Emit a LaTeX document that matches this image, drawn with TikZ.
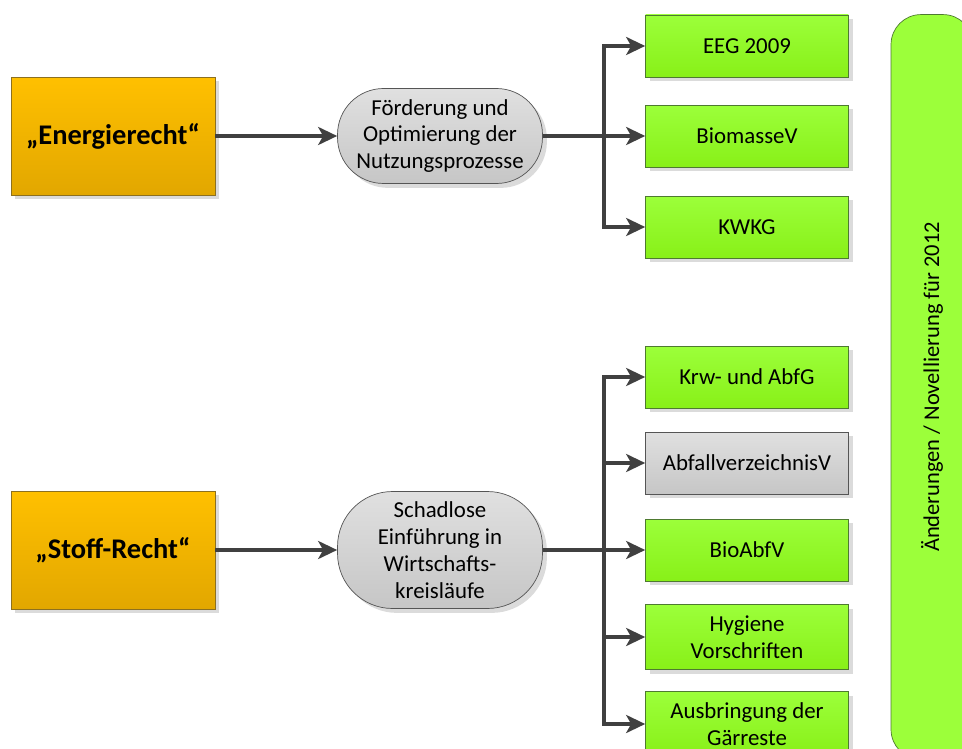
\documentclass[tikz,border=0pt]{standalone}
\usepackage{fontspec}
\setmainfont{Carlito}
\usetikzlibrary{arrows.meta,shadows}

\definecolor{orangetop}{HTML}{FFC000}
\definecolor{orangebot}{HTML}{E2A700}
\definecolor{orangeline}{HTML}{8C7020}
\definecolor{greentop}{HTML}{9CFF3A}
\definecolor{greenbot}{HTML}{88F018}
\definecolor{greenline}{HTML}{4E7A30}
\definecolor{graytop}{HTML}{E0E0E0}
\definecolor{graybot}{HTML}{C6C6C6}
\definecolor{grayline}{HTML}{555555}
\definecolor{arrowgray}{HTML}{404040}

\begin{document}
\begin{tikzpicture}[x=0.02cm,y=-0.02cm,
    shadowed/.style={drop shadow={shadow xshift=2.5pt,shadow yshift=-2.5pt,fill=black!14,opacity=1}},
    lawbox/.style={rectangle,draw=orangeline,top color=orangetop,bottom color=orangebot,
      minimum width=4.08cm,minimum height=2.36cm,shadowed,
      font=\fontsize{16.2}{19}\selectfont\bfseries},
    goalbox/.style={rectangle,rounded corners=0.92cm,draw=grayline,top color=graytop,bottom color=graybot,
      minimum width=4.1cm,align=center,inner sep=1pt,shadowed,
      font=\fontsize{13}{15.3}\selectfont},
    rulebox/.style={rectangle,draw=greenline,top color=greentop,bottom color=greenbot,
      minimum width=4.06cm,minimum height=1.24cm,align=center,inner sep=1pt,shadowed,
      font=\fontsize{13}{15.3}\selectfont},
    flow/.style={draw=arrowgray,line width=2pt,
      -{Stealth[length=0.38cm,width=0.36cm,inset=0.1cm]}}
  ]

  \useasboundingbox (0,0) rectangle (962,749);

  % Energierecht
  \node[lawbox] (energie) at (113,136) {„Energierecht“};
  \node[goalbox,minimum height=1.9cm] (foerder) at (440,136)
    {Förderung und\\Optimierung der\\Nutzungsprozesse};
  \node[rulebox] (eeg)  at (747,46)  {EEG 2009};
  \node[rulebox] (bmv)  at (747,136) {BiomasseV};
  \node[rulebox] (kwkg) at (747,227) {KWKG};
  \coordinate (j1) at (604,136);

  % Stoff-Recht
  \node[lawbox] (stoff) at (113,550) {„Stoff-Recht“};
  \node[goalbox,rounded corners=1.1cm,minimum height=2.34cm] (schad) at (440,550)
    {Schadlose\\Einführung in\\Wirtschafts-\\kreisläufe};
  \node[rulebox] (krw)   at (747,377) {Krw- und AbfG};
  \node[rulebox,draw=grayline,top color=graytop,bottom color=graybot] (avv) at (747,463)
    {AbfallverzeichnisV};
  \node[rulebox] (bio)   at (747,550) {BioAbfV};
  \node[rulebox,minimum height=1.3cm] (hyg) at (747,637) {Hygiene\\Vorschriften};
  \node[rulebox,minimum height=1.3cm] (ausb) at (747,724) {Ausbringung der\\Gärreste};
  \coordinate (j2) at (604,550);

  % Novellierung
  \node[rectangle,rounded corners=0.6cm,draw=greenline,fill=greentop,rotate=90,
    minimum width=14.9cm,minimum height=1.64cm,
    font=\fontsize{12.8}{15.3}\selectfont] (nov) at (932,387)
    {Änderungen / Novellierung für 2012};

  \begin{scope}[every edge/.style={flow}]
    \path (energie) edge (foerder);
    \path (foerder) edge (bmv);
    \path (j1) edge[to path={|- (\tikztotarget)}] (eeg);
    \path (j1) edge[to path={|- (\tikztotarget)}] (kwkg);

    \path (stoff) edge (schad);
    \path (schad) edge (bio);
    \path (j2) edge[to path={|- (\tikztotarget)}] (krw);
    \path (j2) edge[to path={|- (\tikztotarget)}] (avv);
    \path (j2) edge[to path={|- (\tikztotarget)}] (hyg);
    \path (j2) edge[to path={|- (\tikztotarget)}] (ausb);
  \end{scope}
\end{tikzpicture}
\end{document}
